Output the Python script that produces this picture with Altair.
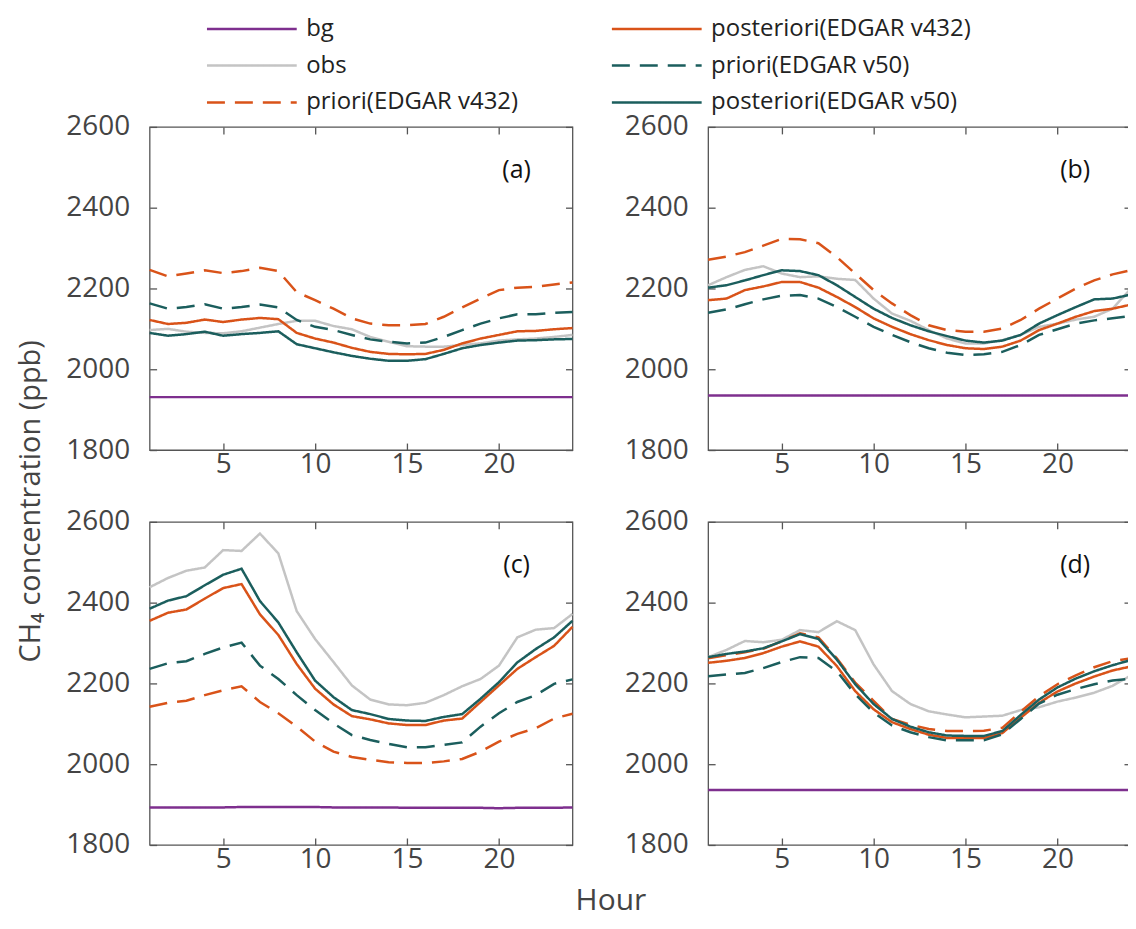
import altair as alt
import pandas as pd

hours = list(range(1, 25))
panels = ["a", "b", "c", "d"]
panel_labels = ["(a)", "(b)", "(c)", "(d)"]
series = ["bg", "obs", "priori(EDGAR v432)", "posteriori(EDGAR v432)",
          "priori(EDGAR v50)", "posteriori(EDGAR v50)"]
legend_order = ["bg", "posteriori(EDGAR v432)", "obs", "priori(EDGAR v50)",
                "priori(EDGAR v432)", "posteriori(EDGAR v50)"]
series_colors = {"bg": "#7E2F8E", "obs": "#C4C4C4",
                 "priori(EDGAR v432)": "#D95319", "posteriori(EDGAR v432)": "#D95319",
                 "priori(EDGAR v50)": "#1B5E5D", "posteriori(EDGAR v50)": "#1B5E5D"}
series_dash = {"bg": [1, 0], "obs": [1, 0],
               "priori(EDGAR v432)": [18, 10], "posteriori(EDGAR v432)": [1, 0],
               "priori(EDGAR v50)": [18, 10], "posteriori(EDGAR v50)": [1, 0]}

# panel (a)
a_bg = [1931, 1931, 1931, 1931, 1931, 1931, 1931, 1931, 1931, 1931, 1931, 1931,
        1931, 1931, 1931, 1931, 1931, 1931, 1931, 1931, 1931, 1931, 1931, 1931]
a_obs = [2097, 2100, 2093, 2090, 2089, 2094, 2103, 2112, 2120, 2120, 2107, 2099,
         2080, 2068, 2057, 2056, 2056, 2060, 2064, 2071, 2074, 2076, 2080, 2085]
a_pri432 = [2246, 2230, 2237, 2245, 2238, 2243, 2251, 2243, 2191, 2171, 2150, 2126,
            2113, 2109, 2109, 2112, 2130, 2153, 2175, 2196, 2202, 2204, 2210, 2215]
a_post432 = [2122, 2112, 2115, 2123, 2117, 2123, 2127, 2124, 2090, 2076, 2066, 2053,
             2043, 2038, 2037, 2038, 2048, 2064, 2076, 2085, 2094, 2095, 2099, 2102]
a_pri50 = [2163, 2150, 2154, 2161, 2150, 2154, 2160, 2153, 2122, 2105, 2097, 2085,
           2074, 2068, 2064, 2066, 2080, 2097, 2113, 2126, 2136, 2136, 2140, 2142]
a_post50 = [2090, 2083, 2087, 2093, 2083, 2087, 2090, 2094, 2062, 2052, 2042, 2033,
            2026, 2021, 2021, 2025, 2038, 2052, 2060, 2066, 2071, 2072, 2074, 2075]

# panel (b)
b_bg = [1935, 1935, 1935, 1935, 1935, 1935, 1935, 1935, 1935, 1935, 1935, 1935,
        1935, 1935, 1935, 1935, 1935, 1935, 1935, 1935, 1935, 1935, 1935, 1935]
b_obs = [2208, 2228, 2246, 2255, 2237, 2228, 2230, 2224, 2221, 2175, 2138, 2120,
         2097, 2076, 2064, 2064, 2072, 2085, 2105, 2113, 2123, 2130, 2150, 2200]
b_pri432 = [2271, 2279, 2290, 2306, 2323, 2322, 2312, 2278, 2237, 2196, 2163, 2134,
            2109, 2097, 2093, 2093, 2101, 2122, 2150, 2175, 2200, 2220, 2235, 2245]
b_post432 = [2171, 2175, 2196, 2205, 2216, 2216, 2202, 2179, 2154, 2126, 2105, 2087,
             2072, 2060, 2052, 2050, 2056, 2071, 2097, 2113, 2130, 2144, 2150, 2160]
b_pri50 = [2140, 2148, 2161, 2173, 2182, 2184, 2175, 2154, 2130, 2105, 2085, 2067,
           2052, 2041, 2035, 2037, 2043, 2060, 2085, 2099, 2113, 2121, 2126, 2132]
b_post50 = [2202, 2208, 2220, 2233, 2245, 2243, 2233, 2208, 2179, 2150, 2127, 2109,
            2094, 2082, 2071, 2066, 2071, 2085, 2113, 2134, 2154, 2173, 2175, 2185]

# panel (c)
c_bg = [1893, 1893, 1893, 1893, 1893, 1894, 1894, 1894, 1894, 1894, 1893, 1893,
        1893, 1893, 1892, 1892, 1892, 1892, 1892, 1891, 1892, 1892, 1892, 1893]
c_obs = [2438, 2461, 2479, 2487, 2530, 2528, 2571, 2522, 2379, 2310, 2253, 2195,
         2160, 2148, 2146, 2152, 2171, 2193, 2211, 2244, 2314, 2333, 2337, 2372]
c_pri432 = [2142, 2152, 2157, 2171, 2183, 2193, 2154, 2126, 2093, 2056, 2031, 2018,
            2011, 2005, 2003, 2003, 2007, 2013, 2031, 2056, 2075, 2089, 2113, 2125]
c_post432 = [2355, 2375, 2383, 2410, 2436, 2446, 2371, 2320, 2248, 2187, 2148, 2119,
             2111, 2101, 2097, 2097, 2108, 2113, 2154, 2195, 2236, 2265, 2293, 2340]
c_pri50 = [2236, 2250, 2255, 2273, 2289, 2301, 2244, 2211, 2171, 2134, 2101, 2072,
           2060, 2050, 2042, 2042, 2048, 2054, 2093, 2126, 2154, 2171, 2199, 2210]
c_post50 = [2385, 2405, 2416, 2443, 2469, 2484, 2404, 2351, 2277, 2207, 2166, 2134,
            2124, 2112, 2108, 2107, 2117, 2124, 2162, 2203, 2252, 2285, 2314, 2355]

# panel (d)
d_bg = [1936, 1936, 1936, 1936, 1936, 1936, 1936, 1936, 1936, 1936, 1936, 1936,
        1936, 1936, 1936, 1936, 1936, 1936, 1936, 1936, 1936, 1936, 1936, 1936]
d_obs = [2265, 2283, 2305, 2302, 2308, 2332, 2327, 2354, 2332, 2247, 2181, 2149,
         2131, 2123, 2116, 2118, 2120, 2134, 2141, 2155, 2165, 2177, 2194, 2220]
d_pri432 = [2262, 2270, 2277, 2286, 2304, 2324, 2314, 2262, 2202, 2157, 2112, 2098,
            2087, 2082, 2082, 2083, 2090, 2130, 2168, 2198, 2220, 2240, 2255, 2262]
d_post432 = [2251, 2256, 2263, 2275, 2291, 2304, 2291, 2243, 2181, 2136, 2104, 2087,
             2073, 2065, 2065, 2065, 2077, 2115, 2152, 2180, 2200, 2217, 2232, 2242]
d_pri50 = [2218, 2222, 2226, 2238, 2253, 2265, 2263, 2230, 2173, 2128, 2096, 2079,
           2067, 2059, 2059, 2059, 2074, 2112, 2150, 2172, 2186, 2198, 2207, 2212]
d_post50 = [2265, 2273, 2279, 2287, 2304, 2322, 2310, 2259, 2198, 2149, 2112, 2093,
            2079, 2071, 2070, 2070, 2082, 2122, 2160, 2190, 2212, 2230, 2245, 2258]

panel_data = {
    "a": [a_bg, a_obs, a_pri432, a_post432, a_pri50, a_post50],
    "b": [b_bg, b_obs, b_pri432, b_post432, b_pri50, b_post50],
    "c": [c_bg, c_obs, c_pri432, c_post432, c_pri50, c_post50],
    "d": [d_bg, d_obs, d_pri432, d_post432, d_pri50, d_post50],
}

rows = []
for p in panels:
    for s, vals in zip(series, panel_data[p]):
        for h, v in zip(hours, vals):
            rows.append({"panel": p, "series": s, "hour": h, "value": v})
df = pd.DataFrame(rows)

FONT = "Open Sans"
AX = "#555555"
LAB = "#444444"
W, H = 424, 324
TK = 7
XT = [5, 10, 15, 20]
YT = [1800, 2000, 2200, 2400, 2600]

xscale = alt.Scale(domain=[1, 24], nice=False, zero=False)
yscale = alt.Scale(domain=[1800, 2600], nice=False, zero=False)

legend = alt.Legend(
    title=None, orient="none", legendX=86, legendY=-115, columns=2,
    direction="horizontal",
    symbolType="M-3,0L3,0", symbolSize=900, symbolStrokeWidth=2.5,
    labelFont=FONT, labelFontSize=24, labelColor="#222222", labelOffset=38,
    columnPadding=88, rowPadding=8, padding=0, labelLimit=400,
)
color = alt.Color("series:N", legend=legend,
                  scale=alt.Scale(domain=legend_order,
                                  range=[series_colors[s] for s in legend_order]))
dash = alt.StrokeDash("series:N", legend=legend,
                      scale=alt.Scale(domain=legend_order,
                                      range=[series_dash[s] for s in legend_order]))


def make_panel(pid, label, ytitle=False, xtitle=False):
    base = alt.Chart(df[df.panel == pid])
    xa_bottom = alt.Axis(orient="bottom", values=XT, tickSize=TK, offset=-TK,
                         domain=False, grid=False, labelPadding=1,
                         title="Hour" if xtitle else None,
                         titleX=462, titleY=72, titleBaseline="alphabetic",
                         titleFont=FONT, titleFontSize=30, titleFontWeight="normal",
                         titleColor=LAB)
    ya_left = alt.Axis(orient="left", values=YT, format="d", tickSize=TK, offset=-TK,
                       domain=False, grid=False, labelPadding=20,
                       title="CH₄ concentration (ppb)" if ytitle else None,
                       titleX=-117, titleY=-21, titleBaseline="alphabetic",
                       titleAngle=270, titleAlign="center",
                       titleFont=FONT, titleFontSize=29, titleFontWeight="normal",
                       titleColor=LAB)
    xa_top = alt.Axis(orient="top", values=XT, tickSize=TK, offset=-TK,
                      domain=False, grid=False, labels=False, title=None)
    ya_right = alt.Axis(orient="right", values=YT, tickSize=TK, offset=-TK,
                        domain=False, grid=False, labels=False, title=None)
    lines = base.mark_line(strokeWidth=2.5).encode(
        x=alt.X("hour:Q", scale=xscale, axis=xa_bottom),
        y=alt.Y("value:Q", scale=yscale, axis=ya_left),
        color=color, strokeDash=dash,
    )
    frame = base.mark_point(opacity=0).encode(
        x=alt.X("hour:Q", scale=xscale, axis=xa_top),
        y=alt.Y("value:Q", scale=yscale, axis=ya_right),
    )
    txt = alt.Chart(pd.DataFrame({"t": [label]})).mark_text(
        font=FONT, fontSize=25, color="#111111", align="center", baseline="middle"
    ).encode(text="t:N", x=alt.value(368), y=alt.value(43))
    return alt.layer(lines, frame, txt).properties(width=W, height=H)


chart = alt.concat(
    make_panel("a", panel_labels[0]),
    make_panel("b", panel_labels[1]),
    make_panel("c", panel_labels[2], ytitle=True, xtitle=True),
    make_panel("d", panel_labels[3]),
    columns=2, spacing={"row": 72, "column": 136}, bounds="flush",
).properties(
    padding={"left": 8, "top": 3, "right": -9, "bottom": 3}
).configure_view(
    stroke=AX, strokeWidth=1.3
).configure_axis(
    labelFont=FONT, labelFontSize=28, labelColor=LAB,
    tickColor=AX, tickWidth=1.3,
)

chart.save("out.html", embed_options={"renderer": "svg", "actions": False})
